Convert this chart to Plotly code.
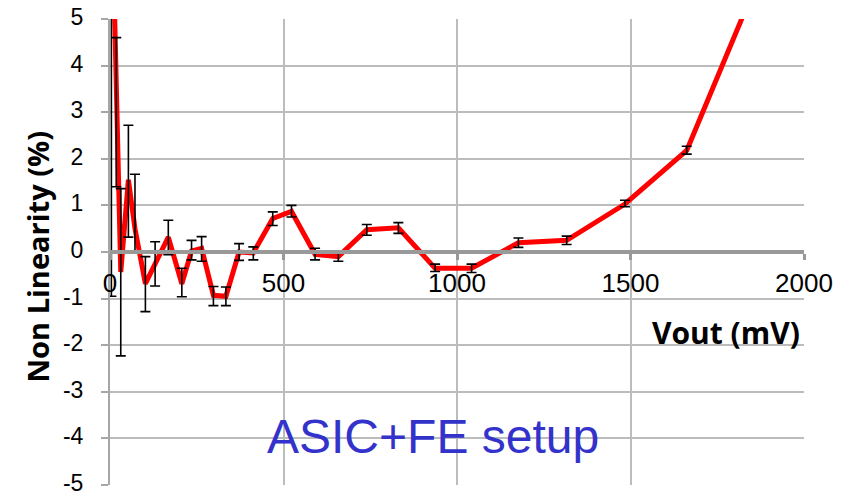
import plotly.graph_objects as go

# Data
vout = [4, 18, 31, 53, 72, 102, 130, 168, 207, 235, 264, 298, 334, 372, 413,
        469, 523, 591, 658, 740, 831, 937, 1042, 1177, 1316, 1484, 1662, 1840]
nonlin = [8.0, 3.0, -0.43, 1.55, 0.5, -0.68, -0.28, 0.32, -0.68, 0.02, 0.08,
          -0.93, -0.95, 0.0, -0.02, 0.72, 0.87, -0.05, -0.10, 0.48, 0.52,
          -0.35, -0.35, 0.20, 0.25, 1.03, 2.18, 5.35]
err_plus = [8.95, 1.6, 1.79, 1.17, 1.17, 0.58, 0.5, 0.36, 0.33, 0.23, 0.25,
            0.19, 0.2, 0.18, 0.13, 0.14, 0.13, 0.13, 0.12, 0.11, 0.11, 0.09,
            0.09, 0.1, 0.09, 0.08, 0.09, 0.1]
err_minus = [8.95, 1.6, 1.8, 1.23, 0.52, 0.6, 0.45, 0.38, 0.28, 0.19, 0.28,
             0.22, 0.2, 0.18, 0.15, 0.15, 0.12, 0.12, 0.1, 0.12, 0.12, 0.07,
             0.09, 0.1, 0.09, 0.06, 0.08, 0.1]

x_ticks = [0, 500, 1000, 1500, 2000]
y_ticks = [-5, -4, -3, -2, -1, 0, 1, 2, 3, 4, 5]

GRID = "#bcbcbc"
AXIS = "#999999"
TICKFONT = dict(family="Liberation Sans, Arial, sans-serif", size=23, color="#000000")

fig = go.Figure()

# Red line
fig.add_trace(go.Scatter(
    x=vout, y=nonlin, mode="lines",
    line=dict(color="#ff0000", width=5),
    showlegend=False, hoverinfo="skip",
))
# Error bars drawn on top of the line
fig.add_trace(go.Scatter(
    x=vout, y=nonlin, mode="markers",
    marker=dict(size=1, opacity=0),
    error_y=dict(type="data", symmetric=False, array=err_plus,
                 arrayminus=err_minus, color="#000000", thickness=1.6, width=5),
    showlegend=False, hoverinfo="skip",
))

fig.update_layout(
    width=843, height=496,
    margin=dict(l=110, r=39, t=19, b=11, autoexpand=False),
    paper_bgcolor="white", plot_bgcolor="white",
    xaxis=dict(
        range=[0, 2000], tickvals=x_ticks, ticktext=[str(v) for v in x_ticks],
        showgrid=True, gridcolor=GRID, gridwidth=2,
        zeroline=False, automargin=False,
        anchor="free", position=0.5,
        showline=True, linecolor=AXIS, linewidth=4,
        ticks="outside", ticklen=6, tickwidth=3, tickcolor=AXIS,
        tickfont=dict(TICKFONT, size=26),
        ticklabelstandoff=1,
        ticklabeloverflow="allow",
    ),
    yaxis=dict(
        range=[-5, 5], tickvals=y_ticks, ticktext=[str(v) for v in y_ticks],
        showgrid=True, gridcolor=GRID, gridwidth=2,
        zeroline=False, automargin=False,
        showline=True, linecolor="#a6a6a6", linewidth=2,
        ticks="outside", ticklen=7, tickwidth=2, tickcolor="#a6a6a6",
        tickfont=TICKFONT,
        ticklabelstandoff=13,
        ticklabelshift=-2,
        ticklabeloverflow="allow",
    ),
    annotations=[
        dict(text="<b>Vout (mV)</b>", xref="paper", yref="paper",
             x=0.997, y=0.327, xanchor="right", yanchor="middle",
             showarrow=False,
             font=dict(family="Open Sans, sans-serif", size=30, color="#000000")),
        dict(text="<b>Non Linearity (%)</b>", xref="paper", yref="paper",
             x=-0.104, y=0.49, xanchor="center", yanchor="middle",
             textangle=-90, showarrow=False,
             font=dict(family="Open Sans, sans-serif", size=29, color="#000000")),
        dict(text="ASIC+FE setup", xref="paper", yref="paper",
             x=0.465, y=0.104, xanchor="center", yanchor="middle",
             showarrow=False,
             font=dict(family="Liberation Sans, Arial, sans-serif", size=48,
                       color="#3333cc")),
    ],
)

fig.write_html("out.html")
